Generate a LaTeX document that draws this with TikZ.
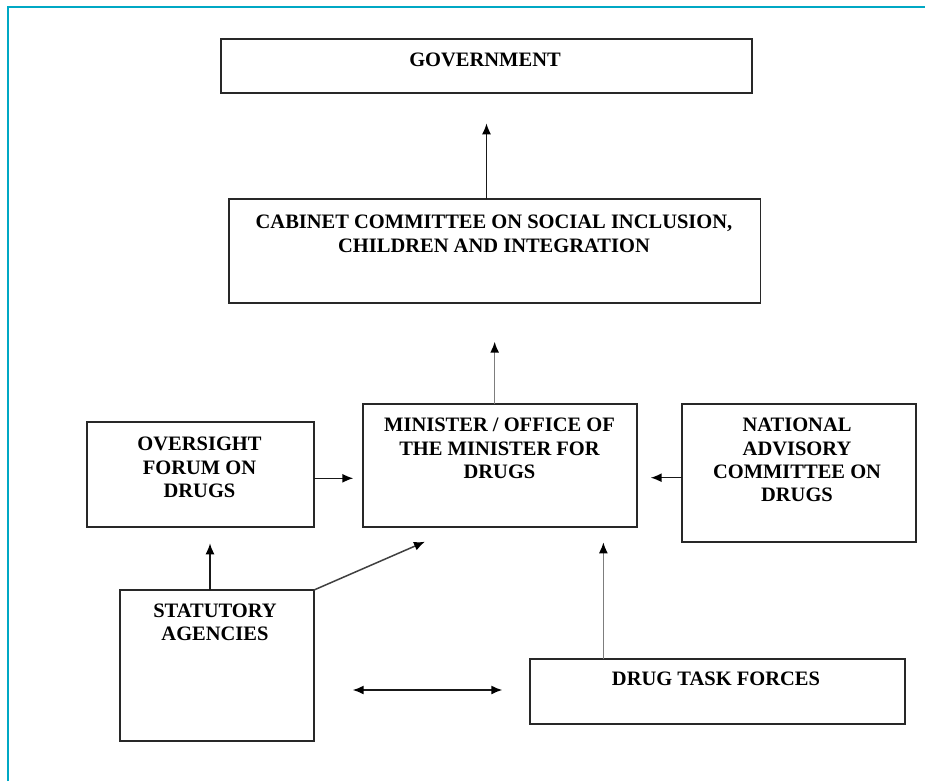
\documentclass[tikz,border=0pt]{standalone}
\usepackage{fontspec}
\setmainfont{Liberation Serif}
\usetikzlibrary{arrows.meta,calc}
\definecolor{frameteal}{RGB}{0,168,196}
\definecolor{boxline}{RGB}{40,40,40}
\definecolor{greyline}{RGB}{125,125,125}
\begin{document}
\begin{tikzpicture}[x=1pt,y=-1pt,
  box/.style={draw=boxline,line width=1.7pt,inner sep=0pt,outer sep=0pt,fill=white},
  lbl/.style={anchor=north,inner sep=0pt,align=center,font=\fontsize{20.5}{23.3}\selectfont\bfseries},
  tip/.style={Latex[length=11pt,width=9pt,color=black]},
  arr/.style={draw=black!90,line width=1.5pt,-{Latex[length=11pt,width=9pt,color=black]}},
  garr/.style={arr,draw=greyline},
  darr/.style={draw=black!90,line width=1.5pt,{Latex[length=11pt,width=9pt,color=black]}-{Latex[length=11pt,width=9pt,color=black]}}
]
\useasboundingbox (0,0) rectangle (925,781);
\fill[white] (0,0) rectangle (925,781);
\draw[frameteal,line width=2.7pt] (8,781) -- (8,7) -- (925,7);

% boxes
\node[box,minimum width=531pt,minimum height=54.3pt] (gov) at (486.5,66.2) {};
\node[box,minimum width=531.9pt,minimum height=104.3pt] (cab) at (494.65,251.15) {};
\node[box,minimum width=274pt,minimum height=123pt] (min) at (500.3,465.8) {};
\node[box,minimum width=227pt,minimum height=105pt] (ovs) at (200.5,474.8) {};
\node[box,minimum width=233.7pt,minimum height=138pt] (nac) at (799.15,473.3) {};
\node[box,minimum width=194pt,minimum height=150.7pt] (sta) at (217,665.35) {};
\node[box,minimum width=375.3pt,minimum height=65pt] (dtf) at (717.35,691.8) {};

% texts
\node[lbl] (govt) at (485,52.5) {GOVERNMENT};
\node[lbl] (cabt) at (494,215) {CABINET COMMITTEE ON SOCIAL INCLUSION,\\CHILDREN AND INTEGRATION};
\node[lbl] (mint) at (499.5,418) {MINISTER / OFFICE OF\\THE MINISTER FOR\\DRUGS};
\node[lbl] (ovst) at (199.5,437) {OVERSIGHT\\FORUM ON\\DRUGS};
\node[lbl] (nact) at (797,418) {NATIONAL\\ADVISORY\\COMMITTEE ON\\DRUGS};
\node[lbl] (stat) at (215,603.5) {STATUTORY\\AGENCIES};
\node[lbl] (dtft) at (716,672) {DRUG TASK FORCES};

% connectors
\draw[arr,shorten >=30pt] (cab.north -| gov.south) -- (gov.south);
\draw[garr,shorten >=38.4pt] (min.north -| cab.south) -- (cab.south);
\draw[arr,shorten >=10pt] ([yshift=-3.5pt]ovs.east) -- ([yshift=-3.5pt]ovs.east -| min.west);
\draw[arr,shorten >=13.4pt] ([yshift=-4.4pt]nac.west) -- ([yshift=-4.4pt]nac.west -| min.east);
\draw[arr,shorten >=16pt] ([xshift=-7pt]sta.north) -- ([xshift=-7pt]sta.north |- ovs.south);
\coordinate (t1) at ($(min.south west)+(61.7,14.4)$);
\draw[arr,draw=black!75] (sta.north east) -- (t1);
\draw[garr,shorten >=15pt] ([xshift=-114pt]dtf.north) -- ([xshift=-114pt]dtf.north |- min.south);
\coordinate (da) at (352.7,690);
\coordinate (db) at (502.3,690);
\draw[darr] (da) -- (db);
\end{tikzpicture}
\end{document}
